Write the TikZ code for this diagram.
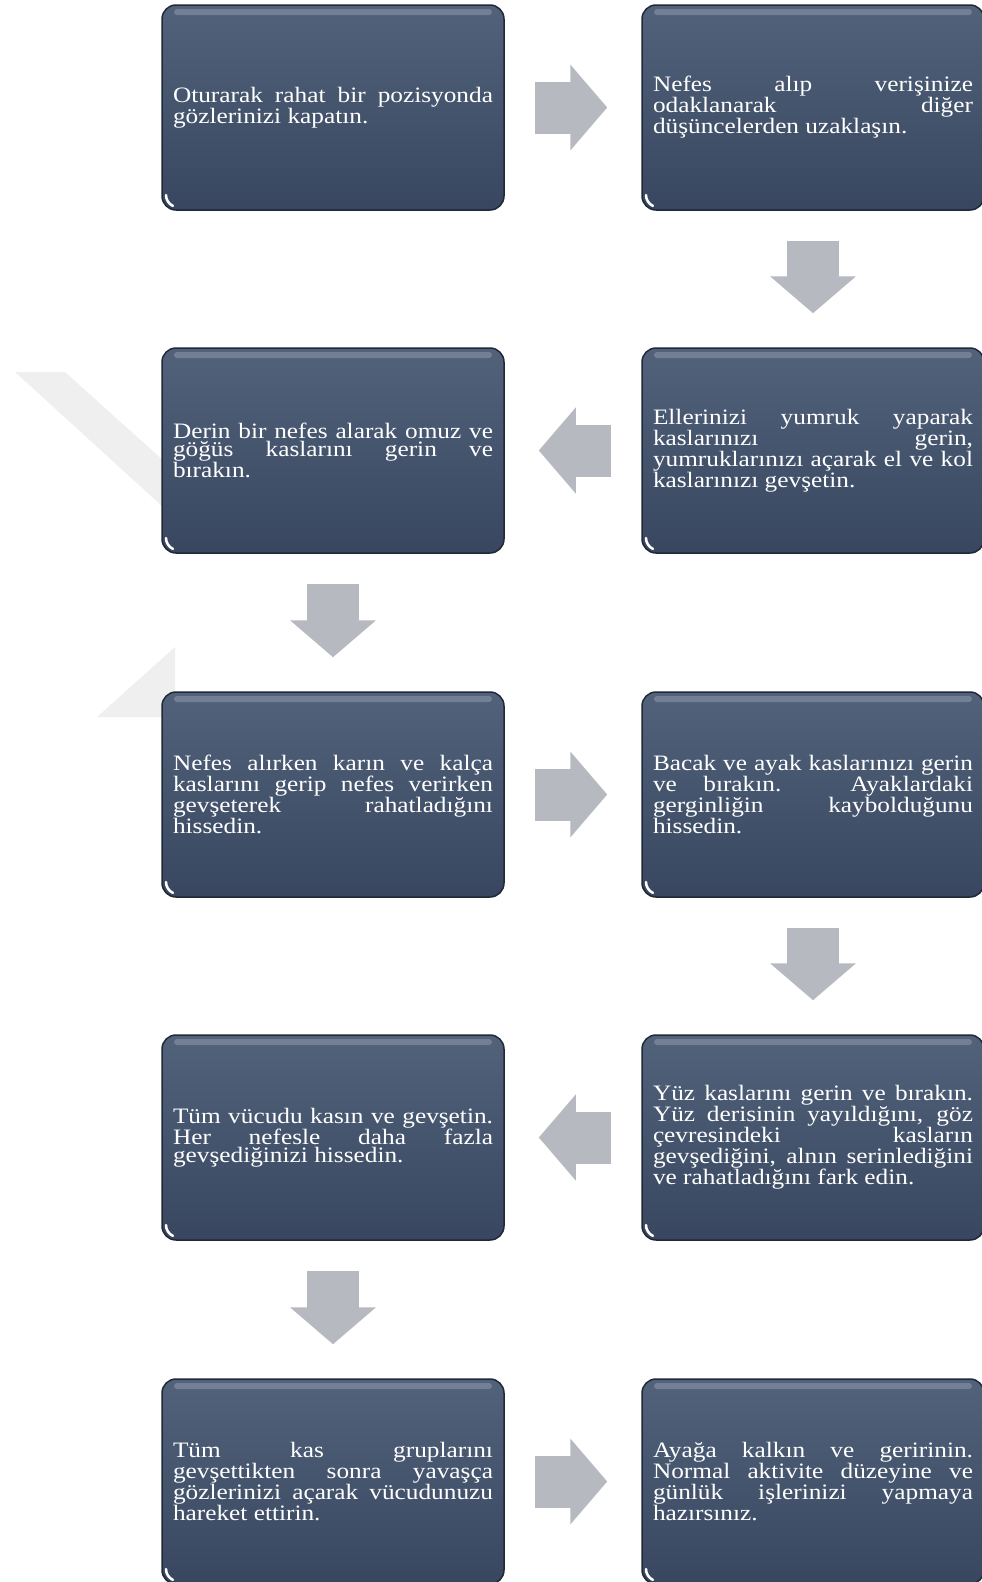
\documentclass[tikz,border=0pt]{standalone}
\usepackage{fontspec}
\setmainfont{Liberation Serif}[FakeStretch=1.15]
\usetikzlibrary{arrows.meta}

\definecolor{boxtop}{HTML}{52627B}
\definecolor{boxbot}{HTML}{38475F}
\definecolor{boxedge}{HTML}{1F2938}
\definecolor{arrowgrey}{HTML}{B6B9C0}
\definecolor{markgrey}{HTML}{EFEFEF}

\newcommand{\stepfont}{\fontsize{22}{17.5}\selectfont\hyphenpenalty=10000 \tolerance=10000 \relax}

\tikzset{
  stepbox/.style={rectangle, rounded corners=14pt, top color=boxtop, bottom color=boxbot,
    draw=boxedge, line width=1.5pt, minimum width=342pt, minimum height=205pt,
    text width=320pt, inner sep=0pt, align=justify, text=white, font=\stepfont,
    path picture={
      \fill[white,opacity=.2,rounded corners=3pt] ([xshift=12pt,yshift=-4pt]path picture bounding box.north west)
        rectangle ([xshift=-12pt,yshift=-10pt]path picture bounding box.north east);
      \draw[white,line width=2.5pt,line cap=round] ([xshift=4pt,yshift=15pt]path picture bounding box.south west)
        arc[start angle=180,end angle=245,radius=12pt];
    }},
  flowarrow/.style={arrowgrey, line width=52pt, shorten <=30pt, shorten >=34pt,
    -{Triangle[width=84pt,length=37pt]}}
}

\begin{document}
\begin{tikzpicture}[x=1pt,y=-1pt]
    \useasboundingbox (0,0) rectangle (982,1582);
    % faint marks behind the boxes
    \fill[markgrey] (15,372) -- (65,372) -- (175,471) -- (175,518) -- cycle;
    \fill[markgrey] (97,717) -- (175,647) -- (175,717) -- cycle;
    % steps ===============================================
    \node[stepbox] (b1)  at (333,107.5)  {Oturarak rahat bir pozisyonda\linebreak gözlerinizi kapatın.};
    \node[stepbox] (b2)  at (813,107.5)  {Nefes alıp verişinize\linebreak odaklanarak diğer\linebreak düşüncelerden uzaklaşın.};
    \node[stepbox] (b3)  at (813,450.5)  {Ellerinizi yumruk yaparak\linebreak kaslarınızı gerin,\linebreak yumruklarınızı açarak el ve kol\linebreak kaslarınızı gevşetin.};
    \node[stepbox] (b4)  at (333,450.5)  {Derin bir nefes alarak omuz ve\linebreak göğüs kaslarını gerin ve\linebreak bırakın.};
    \node[stepbox] (b5)  at (333,794.5)  {Nefes alırken karın ve kalça\linebreak kaslarını gerip nefes verirken\linebreak gevşeterek rahatladığını\linebreak hissedin.};
    \node[stepbox] (b6)  at (813,794.5)  {Bacak ve ayak kaslarınızı gerin\linebreak ve bırakın. Ayaklardaki\linebreak gerginliğin kaybolduğunu\linebreak hissedin.};
    \node[stepbox] (b7)  at (813,1137.5) {Yüz kaslarını gerin ve bırakın.\linebreak Yüz derisinin yayıldığını, göz\linebreak çevresindeki kasların\linebreak gevşediğini, alnın serinlediğini\linebreak ve rahatladığını fark edin.};
    \node[stepbox] (b8)  at (333,1137.5) {Tüm vücudu kasın ve gevşetin.\linebreak Her nefesle daha fazla\linebreak gevşediğinizi hissedin.};
    \node[stepbox] (b9)  at (333,1481.5) {Tüm kas gruplarını\linebreak gevşettikten sonra yavaşça\linebreak gözlerinizi açarak vücudunuzu\linebreak hareket ettirin.};
    \node[stepbox] (b10) at (813,1481.5) {Ayağa kalkın ve geririnin.\linebreak Normal aktivite düzeyine ve\linebreak günlük işlerinizi yapmaya\linebreak hazırsınız.};
    % arrows ==============================================
    \draw[flowarrow] (b1) -- (b2);
    \draw[flowarrow] (b2) -- (b3);
    \draw[flowarrow] (b3) -- (b4);
    \draw[flowarrow] (b4) -- (b5);
    \draw[flowarrow] (b5) -- (b6);
    \draw[flowarrow] (b6) -- (b7);
    \draw[flowarrow] (b7) -- (b8);
    \draw[flowarrow] (b8) -- (b9);
    \draw[flowarrow] (b9) -- (b10);
\end{tikzpicture}
\end{document}
